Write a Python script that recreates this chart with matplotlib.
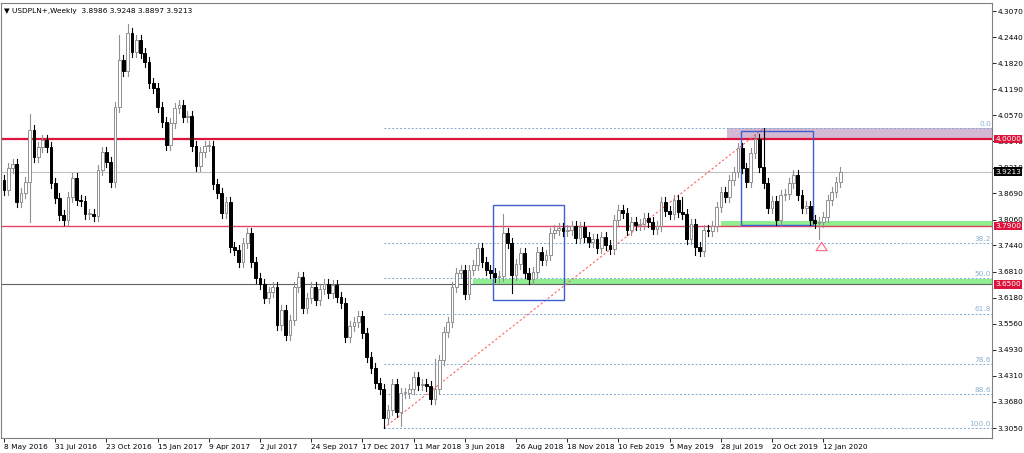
import matplotlib
matplotlib.use("Agg")
import matplotlib.pyplot as plt
from matplotlib.patches import Rectangle

closes = [3.876, 3.93, 3.94, 3.848, 3.87, 3.896, 4.021, 3.956, 3.98, 3.997, 3.98, 3.893,
          3.857, 3.817, 3.804, 3.86, 3.907, 3.852, 3.85, 3.82, 3.82, 3.815, 3.925, 3.968,
          3.944, 3.896, 4.076, 4.189, 4.163, 4.254, 4.208, 4.237, 4.206, 4.184, 4.134, 4.122,
          4.076, 4.04, 3.985, 4.037, 4.074, 4.081, 4.052, 4.055, 3.983, 3.935, 3.968, 3.983,
          3.983, 3.891, 3.87, 3.822, 3.848, 3.74, 3.733, 3.704, 3.75, 3.773, 3.704, 3.665,
          3.651, 3.617, 3.632, 3.644, 3.553, 3.588, 3.528, 3.565, 3.644, 3.668, 3.593, 3.617,
          3.644, 3.613, 3.64, 3.65, 3.63, 3.648, 3.62, 3.605, 3.523, 3.55, 3.56, 3.575,
          3.533, 3.475, 3.449, 3.413, 3.40, 3.328, 3.348, 3.41, 3.343, 3.389, 3.39, 3.40,
          3.427, 3.408, 3.41, 3.405, 3.376, 3.40, 3.468, 3.535, 3.56, 3.643, 3.677, 3.684,
          3.628, 3.686, 3.696, 3.737, 3.704, 3.684, 3.677, 3.668, 3.67, 3.773, 3.749, 3.672,
          3.70, 3.725, 3.677, 3.663, 3.68, 3.728, 3.708, 3.72, 3.774, 3.781, 3.785, 3.778,
          3.78, 3.79, 3.761, 3.788, 3.763, 3.752, 3.76, 3.737, 3.765, 3.745, 3.735, 3.804,
          3.828, 3.821, 3.78, 3.80, 3.792, 3.795, 3.81, 3.80, 3.783, 3.79, 3.848, 3.826,
          3.82, 3.852, 3.824, 3.82, 3.759, 3.795, 3.74, 3.73, 3.781, 3.778, 3.79, 3.836,
          3.872, 3.86, 3.901, 3.92, 3.979, 3.929, 3.896, 3.966, 4.0, 3.933, 3.894, 3.833,
          3.85, 3.804, 3.865, 3.868, 3.894, 3.913, 3.865, 3.833, 3.838, 3.804, 3.797, 3.80,
          3.812, 3.852, 3.872, 3.896, 3.9213]
first_open = 3.90
wick = 0.012
extreme_highs = {6: 4.06, 29: 4.275, 27: 4.25, 101: 3.47, 117: 3.82, 178: 4.025, 159: 3.86}
extreme_lows = {6: 3.80, 89: 3.305, 93: 3.31, 119: 3.63, 162: 3.72, 191: 3.76}

date_labels = ["8 May 2016", "31 Jul 2016", "23 Oct 2016", "15 Jan 2017", "9 Apr 2017",
               "2 Jul 2017", "24 Sep 2017", "17 Dec 2017", "11 Mar 2018", "3 Jun 2018",
               "26 Aug 2018", "18 Nov 2018", "10 Feb 2019", "5 May 2019", "28 Jul 2019",
               "20 Oct 2019", "12 Jan 2020"]
price_ticks = [4.3070, 4.2440, 4.1820, 4.1190, 4.0570, 3.9940, 3.9310, 3.8690, 3.8060,
               3.7440, 3.6810, 3.6180, 3.5560, 3.4930, 3.4310, 3.3680, 3.3050]
fib_levels = [0.0, 38.2, 50.0, 61.8, 78.6, 88.6, 100.0]
fib_high, fib_low = 4.025, 3.305
fib_start, fib_end = 89, 178

FS = 5.3
fig = plt.figure(figsize=(10.24, 4.53), dpi=100)
ax = fig.add_axes([0.001, 0.033, 0.968, 0.960])
xmin, xmax = -0.7, 231.6
ax.set_xlim(xmin, xmax)
ax.set_ylim(3.281, 4.326)

ax.add_patch(Rectangle((169.5, 4.0), xmax - 169.5, 0.025, color="#c8a8c8", alpha=0.8, lw=0, zorder=1))
ax.add_patch(Rectangle((168, 3.79), xmax - 168, 0.013, color="#90ee90", lw=0, zorder=1))
ax.add_patch(Rectangle((109.8, 3.65), xmax - 109.8, 0.013, color="#90ee90", lw=0, zorder=1))

ax.axhline(4.0, color="#dc143c", lw=1.6, zorder=2)
ax.axhline(3.79, color="#dc143c", lw=1.0, alpha=0.8, zorder=2)
ax.axhline(3.65, color="#606060", lw=0.8, zorder=2)
ax.axhline(closes[-1], color="#c0c0c0", lw=0.8, zorder=1)

for lv in fib_levels:
    p = fib_high - (fib_high - fib_low) * lv / 100
    ax.plot([fib_start, xmax], [p, p], ls=(0, (2, 2)), color="#7fa8d0", lw=0.7, zorder=1)
    ax.text(231.3, p + 0.003, f"{lv:.1f}", color="#8fb0d0", fontsize=FS, ha="right", va="bottom")
ax.plot([fib_start, fib_end], [fib_low, fib_high], ls=(0, (2, 2)), color="#ff6060", lw=0.8, zorder=2)

ax.add_patch(Rectangle((114.5, 3.612), 16.8, 0.228, fill=False, ec="#4060d0", lw=1, zorder=4))
ax.add_patch(Rectangle((172.8, 3.792), 16.8, 0.228, fill=False, ec="#4060d0", lw=1, zorder=4))

opens = [first_open] + closes[:-1]
for i, (o, c) in enumerate(zip(opens, closes)):
    hi = extreme_highs.get(i, max(o, c) + wick)
    lo = extreme_lows.get(i, min(o, c) - wick)
    up = c >= o
    ax.plot([i, i], [lo, hi], color="#909090" if up else "black", lw=0.8, zorder=5)
    h = max(abs(c - o), 0.002)
    ax.add_patch(Rectangle((i - 0.32, min(o, c)), 0.64, h,
                           fc="white" if up else "black", ec="#909090" if up else "black",
                           lw=0.7, zorder=6))

ax.annotate("", xy=(191.6, 3.758), xytext=(191.6, 3.73),
            arrowprops=dict(arrowstyle="simple,head_width=0.8,head_length=0.6,tail_width=0.35",
                            fc="white", ec="#ff6080", lw=0.8), zorder=7)

ax.yaxis.tick_right()
ax.set_yticks(price_ticks)
ax.set_yticklabels([f"{p:.4f}" for p in price_ticks], fontsize=FS)
ax.set_xticks([12 * k for k in range(len(date_labels))])
ax.set_xticklabels(date_labels, fontsize=FS, ha="left")
ax.tick_params(length=3, width=0.6, pad=1)
for s in ax.spines.values():
    s.set_color("#808080")
    s.set_linewidth(0.8)

def tag(p, txt, fc, tc="white"):
    ax.text(1.003, p, txt, transform=ax.get_yaxis_transform(), fontsize=FS, color=tc,
            va="center", ha="left", zorder=10,
            bbox=dict(boxstyle="square,pad=0.15", fc=fc, ec="none"))
tag(4.0, "4.0000", "#dc143c")
tag(3.79, "3.7900", "#dc143c")
tag(3.65, "3.6500", "#dc143c")
tag(closes[-1], "3.9213", "black")

ax.text(0.003, 0.988, "\u25bc USDPLN+,Weekly  3.8986 3.9248 3.8897 3.9213", transform=ax.transAxes,
        fontsize=FS, va="top", ha="left")

fig.savefig("out.png", dpi=100)
